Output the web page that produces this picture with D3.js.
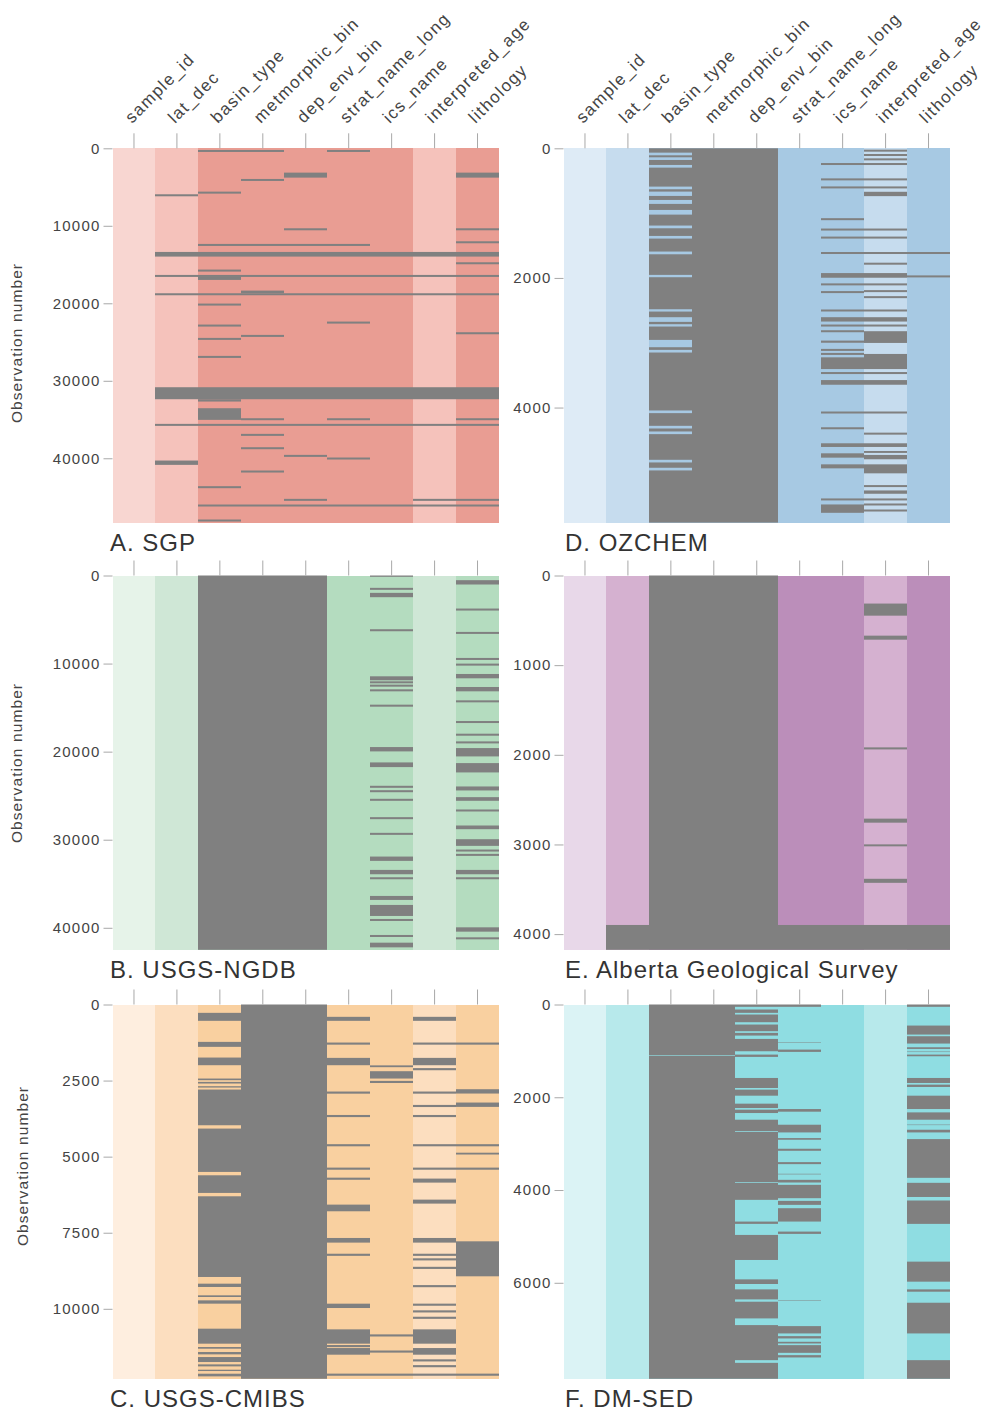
<!DOCTYPE html>
<html><head><meta charset="utf-8">
<script src="https://cdn.jsdelivr.net/npm/d3@7"></script>
<style>body{margin:0;background:#fff}</style>
</head><body><svg id="chart" width="989" height="1412"></svg>
<script>
// ---------------- DATA ----------------
const columns = ["sample_id","lat_dec","basin_type","metmorphic_bin","dep_env_bin","strat_name_long","ics_name","interpreted_age","lithology"];
const columnShade = [0,1,2,2,2,2,2,1,2]; // 0 lightest, 1 light, 2 medium

const panelTitles = ["A. SGP","B. USGS-NGDB","C. USGS-CMIBS","D. OZCHEM","E. Alberta Geological Survey","F. DM-SED"];
const panelRows = [48300, 42500, 12300, 5775, 4175, 8070];
const panelYTicks = [
  [0,10000,20000,30000,40000],
  [0,10000,20000,30000,40000],
  [0,2500,5000,7500,10000],
  [0,2000,4000],
  [0,1000,2000,3000,4000],
  [0,2000,4000,6000]
];
const panelPalettes = [
  ["#f8d6d1","#f5c2bb","#e99d93"],
  ["#e6f3e9","#cfe7d6","#b4dcbf"],
  ["#feeedf","#fcdebf","#f9d0a0"],
  ["#deebf6","#c6dcee","#a7c9e3"],
  ["#e8d8e9","#d5b1d0","#bb8eba"],
  ["#dbf3f5","#b7e9eb","#8fdde2"]
];

// missing blocks: [columns (1-based), from row, to row]
const sgpMissing = [
  ["3-4,6",214,474],["5,9",3139,3784],["4",3955,4215],["3",5590,5850],["2",5933,6193],
  ["5,9",10320,10580],["9",11996,12256],["3-6",12340,12600],["2-9",13373,13975],["9",14705,14965],
  ["3",15650,15910],["2-9",16340,16600],["3",16555,16985],["4",18361,18705],["2-9",18704,18964],
  ["3",20037,20297],["6",22360,22620],["3",22746,23006],["9",23735,23995],["4",24079,24339],
  ["3",24466,24726],["3",26788,27048],["2-9",30831,32379],["3",32379,32680],["3",33540,35045],
  ["4,6,9",34830,35090],["2-9",35560,35820],["4",36850,37110],["4",38570,38830],["5",39560,39820],
  ["6",39900,40160],["2",40291,40850],["4",41580,41840],["3",43600,43860],["5,8-9",45235,45495],
  ["3-9",45966,46226],["3",47900,48160]
];
const ngdbMissing = [
  ["3-5",0,42500],
  ["7",0,150],["7",1401,1631],["7",1971,2464],["7",6100,6330],["7",11446,11901],["7",12013,12243],
  ["7",12392,12622],["7",12923,13153],["7",14666,14896],["7",19480,19973],["7",21224,21755],
  ["7",23877,24107],["7",24378,24608],["7",25354,25584],["7",27438,27668],["7",29220,29450],
  ["7",31912,32405],["7",33428,33921],["7",34261,34491],["7",36384,36839],["7",37407,38658],
  ["7",38998,39228],["7",40817,41047],["7",41690,42221],
  ["9",531,1023],["9",3751,3981],["9",6404,6634],["9",9360,9590],["9",10004,10234],["9",11181,11673],
  ["9",12659,13151],["9",14173,14403],["9",16523,16753],["9",17963,18193],["9",18835,19065],
  ["9",19594,20542],["9",21300,22361],["9",23953,24408],["9",25166,25583],["9",26567,26797],
  ["9",28387,28804],["9",29941,30699],["9",31115,31345],["9",31608,31838],["9",33428,33921],
  ["9",34261,34491],["9",39947,40440],["9",41082,41312]
];
const cmibsMissing = [
  ["4-5",0,12300],
  ["3",274,537],["3",1228,1392],["3",1743,1995],["3",2433,2488],["3",2543,2597],["3",2685,2729],
  ["3",2795,3968],["3",4077,5502],["3",5612,6192],["3",6302,8954],["3",9174,9283],["3",9557,9612],
  ["3",9722,9831],["3",10653,11146],["3",11256,11311],["3",11420,11497],["3",11585,11749],
  ["3",11826,11892],["3",12001,12045],["3",12133,12220],
  ["6",405,537],["6",1250,1320],["6",1754,1995],["6",2860,2930],["6",3630,3700],["6",4590,4660],
  ["6",5360,5430],["6",5690,5760],["6",6576,6795],["6",7672,7825],["6",8190,8260],["6",9831,9974],
  ["6",10675,11146],["6",11190,11260],["6",11289,11508],["6-9",12130,12200],
  ["7",2000,2060],["7",2192,2433],["7",2510,2580],["7",10840,10910],["7",11370,11440],
  ["8",405,537],["8",1250,1320],["8",1754,1995],["8",2090,2160],["8",2860,2930],["8",3300,3370],
  ["8",3630,3700],["8",4590,4660],["8",5360,5430],["8",5721,5853],["8",6412,6543],["8",7672,7825],
  ["8",8190,8260],["8",8340,8410],["8",8620,8690],["8",9220,9290],["8",9830,9900],["8",10050,10120],
  ["8",10260,10330],["8",10675,11146],["8",11289,11508],["8",11660,11730],["8",11850,11920],
  ["9",1250,1320],["9",2784,2926],["9",3222,3365],["9",4590,4660],["9",4870,4930],["9",5360,5430],
  ["9",7782,8932]
];
const ozchemMissing = [
  ["4-5",0,5775],
  ["3",0,67],["3",108,139],["3",180,257],["3",298,591],["3",632,668],["3",735,797],["3",858,951],
  ["3",1023,1192],["3",1234,1352],["3",1393,1593],["3",1635,1953],["3",1989,2483],["3",2519,2606],
  ["3",2678,2714],["3",2750,2956],["3",3069,3110],["3",3151,4045],["3",4086,4282],["3",4323,4369],
  ["3",4410,4806],["3",4847,4929],["3",4970,5775],
  ["7",227,258],["7",464,495],["7",588,619],["7",1078,1109],["7",1238,1269],["7",1362,1393],
  ["7",1600,1631],["7",1925,1997],["7",2084,2115],["7",2203,2234],["7",2487,2518],["7",2606,2673],
  ["7",2719,2750],["7",2807,2838],["7",2967,3000],["7",3095,3126],["7",3157,3188],["7",3225,3406],
  ["7",3452,3483],["7",3576,3648],["7",4061,4092],["7",4304,4335],["7",4551,4608],["7",4706,4773],
  ["7",4876,4938],["7",5402,5433],["7",5495,5624],
  ["8",21,52],["8",88,119],["8",155,186],["8",227,258],["8",464,495],["8",588,619],["8",671,738],
  ["8",1238,1269],["8",1362,1393],["8",1600,1631],["8",1765,1796],["8",1925,1997],["8",2084,2115],
  ["8",2188,2219],["8",2281,2312],["8",2487,2518],["8",2606,2673],["8",2719,2750],["8",2822,3003],
  ["8",3173,3406],["8",3452,3483],["8",3576,3648],["8",4061,4092],["8",4387,4418],["8",4551,4608],
  ["8",4670,4700],["8",4731,4798],["8",4876,5015],["8",5196,5227],["8",5279,5330],["8",5402,5433],
  ["8",5480,5511],["8",5573,5604],
  ["9",1600,1631],["9",1961,1992]
];
const agsMissing = [
  ["3-5",0,4175],
  ["2,6-9",3898,4175],
  ["8",313,448],["8",671,716],["8",1917,1940],["8",2712,2757],["8",2999,3021],["8",3383,3428]
];
const dmsedMissing = [
  ["3-4",0,1090],["3-4",1104,8070],
  ["5-6",0,50],
  ["5",108,180],["5",216,382],["5",432,576],["5",612,670],["5",742,1008],["5",1080,1130],
  ["5",1584,1800],["5",1836,1966],["5",2138,2232],["5",2268,2340],["5",2484,2728],["5",2745,3830],
  ["5",3846,4212],["5",4680,4730],["5",4968,5508],["5",5926,6026],["5",6142,6358],["5",6408,6768],
  ["5",6912,7668],["5",7726,8070],
  ["6",809,819],["6",972,1022],["6",2254,2311],["6",2592,2758],["6",2880,2916],["6",3110,3154],
  ["6",3398,3442],["6",3650,3662],["6",3780,3838],["6",3888,4176],["6",4234,4320],["6",4392,4680],
  ["6",4896,4946],["6",6380,6390],["6",6934,7092],["6",7150,7200],["6",7272,7308],["6",7344,7510],
  ["6",7560,7610],
  ["9",0,50],["9",454,648],["9",684,842],["9",922,958],["9",1015,1025],["9",1080,1116],
  ["9",1584,1692],["9",1728,1778],["9",1966,2254],["9",2326,2484],["9",2590,2600],["9",2700,2758],
  ["9",2902,3737],["9",3845,4150],["9",4226,4730],["9",5544,5976],["9",6142,6192],["9",6430,7092],
  ["9",7668,8070]
];
const panelMissing = [sgpMissing, ngdbMissing, cmibsMissing, ozchemMissing, agsMissing, dmsedMissing];

// ---------------- LAYOUT ----------------
const PLOT_LEFT = [112.5, 563.5];
const PLOT_TOP = [148.3, 575.5, 1004.5];
const PLOT_W = 386.5, PLOT_H = 374.3;
const Y_TITLE = [[16,343],[16,763],[22,1166]];
const MISSING_COLOR = "#808080";
const FONT = "Liberation Sans, Arial, Helvetica, sans-serif";
const TEXT_COLOR = "#444";
const TICK_COLOR = "#a8a8a8";

const svg = d3.select("#chart");

function colRuns(spec){
  const cols = [];
  String(spec).split(",").forEach(part => {
    const [a,b] = part.split("-").map(Number);
    for (let c = a; c <= (b || a); c++) cols.push(c - 1);
  });
  cols.sort((a,b)=>a-b);
  const runs = [];
  cols.forEach(c => {
    const last = runs[runs.length-1];
    if (last && last[1] === c - 1) last[1] = c; else runs.push([c,c]);
  });
  return runs;
}

panelTitles.forEach((title, i) => {
  const gc = Math.floor(i / 3), gr = i % 3;
  const left = PLOT_LEFT[gc], top = PLOT_TOP[gr];
  const pal = panelPalettes[i];
  const g = svg.append("g");

  const x = d3.scaleBand().domain(columns).range([left, left + PLOT_W]).padding(0);
  const y = d3.scaleLinear().domain([0, panelRows[i]]).range([top, top + PLOT_H]);
  const bw = x.bandwidth();
  const xl = c => Math.round(x(columns[c]));
  const xr = c => Math.round(x(columns[c]) + bw);

  // column backgrounds
  g.append("g").selectAll("rect").data(columns).join("rect")
    .attr("x", (d,j) => xl(j))
    .attr("width", (d,j) => xr(j) - xl(j))
    .attr("y", y(0)).attr("height", y(panelRows[i]) - y(0))
    .attr("fill", (d,j) => pal[columnShade[j]])
    .attr("shape-rendering", "crispEdges");

  // missing blocks
  const blocks = panelMissing[i].flatMap(([spec, a, b]) =>
    colRuns(spec).map(([c0, c1]) => ({c0, c1, a, b})));
  g.append("g").selectAll("rect").data(blocks).join("rect")
    .attr("x", d => xl(d.c0))
    .attr("width", d => xr(d.c1) - xl(d.c0))
    .attr("y", d => y(d.a))
    .attr("height", d => Math.max(0.4, y(d.b) - y(d.a)))
    .attr("fill", MISSING_COLOR);

  // top ticks
  const topAxis = g.append("g").attr("transform", `translate(0,${top})`)
    .call(d3.axisTop(x).tickSize(15).tickFormat(""));
  topAxis.select(".domain").remove();
  topAxis.selectAll("line").attr("stroke", TICK_COLOR).attr("stroke-width", 1);

  // column labels (top row only)
  if (gr === 0) {
    g.append("g").selectAll("text").data(columns).join("text")
      .attr("transform", d => `translate(${x(d) + bw/2 - 2},124) rotate(-45)`)
      .attr("text-anchor", "start")
      .attr("font-family", FONT).attr("font-size", 17)
      .attr("letter-spacing", "1.4px")
      .attr("fill", TEXT_COLOR)
      .text(d => d);
  }

  // y axis
  const leftAxis = g.append("g").attr("transform", `translate(${left},0)`)
    .call(d3.axisLeft(y).tickValues(panelYTicks[i]).tickSize(9).tickPadding(3).tickFormat(d3.format("d")));
  leftAxis.select(".domain").remove();
  leftAxis.selectAll("line").attr("stroke", TICK_COLOR);
  leftAxis.selectAll("text")
    .attr("font-family", FONT).attr("font-size", 15)
    .attr("letter-spacing", "1.2px")
    .attr("fill", TEXT_COLOR);

  // y title (left column)
  if (gc === 0) {
    g.append("text")
      .attr("transform", `translate(${Y_TITLE[gr][0]},${Y_TITLE[gr][1]}) rotate(-90)`)
      .attr("text-anchor", "middle").attr("dominant-baseline", "central")
      .attr("font-family", FONT).attr("font-size", 15.5)
      .attr("letter-spacing", "1.1px")
      .attr("fill", TEXT_COLOR)
      .text("Observation number");
  }

  // panel title
  g.append("text")
    .attr("x", gc === 0 ? left - 2.5 : left + 1.5)
    .attr("y", top + PLOT_H + 28)
    .attr("font-family", FONT).attr("font-size", 24)
    .attr("letter-spacing", "1px")
    .attr("fill", "#333")
    .text(title);
});
</script>
</body></html>
